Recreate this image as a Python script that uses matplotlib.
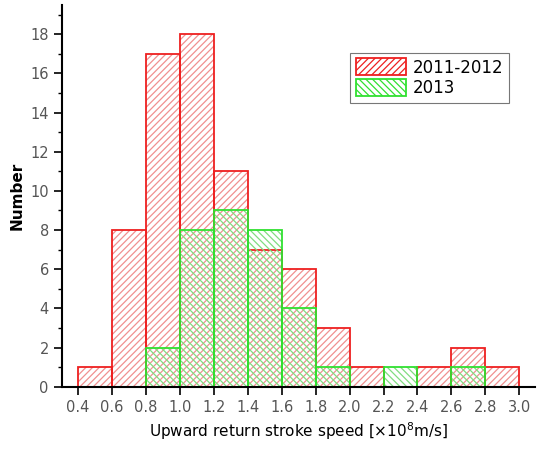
import numpy as np
import matplotlib.pyplot as plt

# bin edges and counts
bin_edges = np.round(np.arange(0.4, 3.01, 0.2), 1)
counts_1112 = [1, 8, 17, 18, 11, 7, 6, 3, 1, 0, 1, 2, 1]
counts_2013 = [0, 0, 2, 8, 9, 8, 4, 1, 0, 1, 0, 1, 0]
x_ticks = [0.4, 0.6, 0.8, 1.0, 1.2, 1.4, 1.6, 1.8, 2.0, 2.2, 2.4, 2.6, 2.8, 3.0]

plt.rcParams['hatch.linewidth'] = 0.9

fig = plt.figure(figsize=(5.37, 4.53), dpi=100)
ax = fig.add_axes([0.1155, 0.1464, 0.88, 0.843])

left = bin_edges[:-1]
w = 0.2

def draw_hist(counts, hatch, hcol, ecol, label):
    c = np.array(counts, dtype=float)
    m = c > 0
    ax.bar(left[m], c[m], width=w, align='edge', fill=False, hatch=hatch,
           edgecolor=hcol, linewidth=0)
    ax.bar(left[m], c[m], width=w, align='edge', fill=False,
           edgecolor=ecol, linewidth=1.3)
    # legend proxy
    return plt.Rectangle((0, 0), 1, 1, fill=False, hatch=hatch,
                         edgecolor=ecol, linewidth=1.3, label=label)

p1 = draw_hist(counts_1112, '/////', '#f09090', '#ee2020', '2011-2012')
p2 = draw_hist(counts_2013, '\\\\\\\\\\', '#80dd80', '#30e030', '2013')

ax.set_xlim(0.306, 3.09)
ax.set_ylim(0, 19.5)
ax.set_xticks(x_ticks)
ax.set_xticklabels([f"{t:.1f}" for t in x_ticks])
ax.set_yticks(range(0, 19, 2))
ax.set_yticks(range(0, 20, 1), minor=True)
ax.tick_params(axis='both', which='major', direction='out', length=6, width=1.2,
               labelsize=10.5, labelcolor='#555555')
ax.tick_params(axis='y', which='minor', direction='out', length=3, width=1.0)
ax.spines['top'].set_visible(False)
ax.spines['right'].set_visible(False)
ax.spines['left'].set_linewidth(1.5)
ax.spines['bottom'].set_linewidth(1.5)

ax.set_xlabel(r"Upward return stroke speed [$\times$10$^8$m/s]", fontsize=11)
ax.set_ylabel("Number", fontsize=11, fontweight='bold')

leg = ax.legend(handles=[p1, p2], loc='upper left', bbox_to_anchor=(0.61, 0.875),
                fontsize=12, frameon=True, fancybox=False, edgecolor='#555555',
                handlelength=3.0, handleheight=1.2, borderpad=0.35,
                labelspacing=0.15, handletextpad=0.4, borderaxespad=0)
leg.get_frame().set_linewidth(0.8)

fig.savefig("out.png", dpi=100)
